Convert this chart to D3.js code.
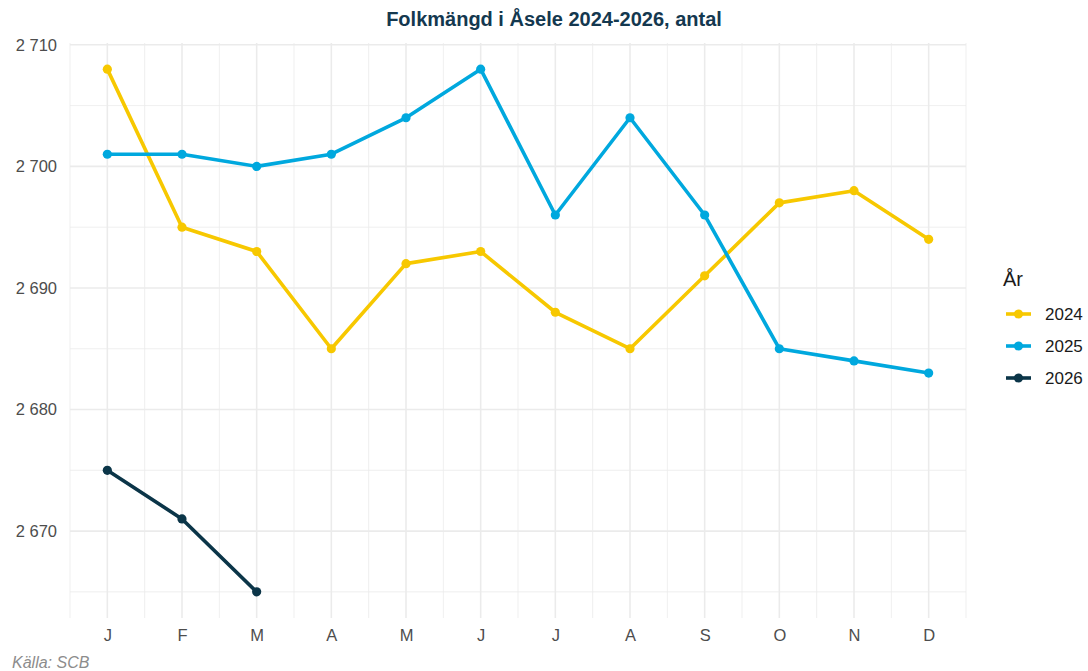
<!DOCTYPE html>
<html>
<head>
<meta charset="utf-8">
<script src="https://cdn.jsdelivr.net/npm/d3@7"></script>
<style>
  body { margin:0; background:#fff; }
  svg { font-family: "Liberation Sans", Arial, sans-serif; }
</style>
</head>
<body>
<div id="chart"></div>
<script>
const manader = ["J","F","M","A","M","J","J","A","S","O","N","D"];
const ar = ["2024","2025","2026"];
const v2024 = [2708,2695,2693,2685,2692,2693,2688,2685,2691,2697,2698,2694];
const v2025 = [2701,2701,2700,2701,2704,2708,2696,2704,2696,2685,2684,2683];
const v2026 = [2675,2671,2665];
const yTicks = [2670,2680,2690,2700,2710];
const farger = ["#f7c800","#00a8de","#0b3548"];

const width = 1088, height = 671;
const margin = {top:43, left:70, right:122, bottom:53};

const svg = d3.select("#chart").append("svg")
    .attr("width", width).attr("height", height);

const x = d3.scaleLinear()
    .domain([0.5, 12.5])
    .range([margin.left, width - margin.right]);

const y = d3.scaleLinear()
    .domain([2662.85, 2710.15])
    .range([height - margin.bottom, margin.top]);

// grid
const grid = svg.append("g");
const minorY = [2665,2675,2685,2695,2705];
grid.selectAll(".miny").data(minorY).join("line")
    .attr("x1", x(0.5)).attr("x2", x(12.5))
    .attr("y1", d => y(d)).attr("y2", d => y(d))
    .attr("stroke", "#ebebeb").attr("stroke-width", 0.8);
grid.selectAll(".minx").data(d3.range(13)).join("line")
    .attr("x1", d => x(d + 0.5)).attr("x2", d => x(d + 0.5))
    .attr("y1", y.range()[0]).attr("y2", y.range()[1])
    .attr("stroke", "#ebebeb").attr("stroke-width", 0.8);
grid.selectAll(".majy").data(yTicks).join("line")
    .attr("x1", x(0.5)).attr("x2", x(12.5))
    .attr("y1", d => y(d)).attr("y2", d => y(d))
    .attr("stroke", "#ebebeb").attr("stroke-width", 1.6);
grid.selectAll(".majx").data(d3.range(1, 13)).join("line")
    .attr("x1", d => x(d)).attr("x2", d => x(d))
    .attr("y1", y.range()[0]).attr("y2", y.range()[1])
    .attr("stroke", "#ebebeb").attr("stroke-width", 1.6);

// axes
const fmt = d => d3.format(",")(d).replace(",", " ");
const yAxis = svg.append("g")
    .attr("transform", `translate(${margin.left},0)`)
    .call(d3.axisLeft(y).tickValues(yTicks).tickFormat(fmt).tickSize(0).tickPadding(13));
yAxis.select(".domain").remove();
yAxis.selectAll("text").attr("font-size", "16.5px").attr("fill", "#4d4d4d")
    .attr("font-family", "'Liberation Sans', Arial, sans-serif");

const xAxis = svg.append("g")
    .attr("transform", `translate(0,${height - margin.bottom})`)
    .call(d3.axisBottom(x).tickValues(d3.range(1, 13)).tickFormat(i => manader[i - 1]).tickSize(0).tickPadding(11));
xAxis.select(".domain").remove();
xAxis.selectAll("text").attr("font-size", "16.5px").attr("fill", "#4d4d4d")
    .attr("font-family", "'Liberation Sans', Arial, sans-serif");

// series
const serier = [v2024, v2025, v2026];
const line = d3.line().x((d, i) => x(i + 1)).y(d => y(d));
serier.forEach((s, k) => {
  svg.append("path").datum(s)
      .attr("d", line).attr("fill", "none")
      .attr("stroke", farger[k]).attr("stroke-width", 3.6)
      .attr("stroke-linejoin", "round");
  svg.append("g").selectAll("circle").data(s).join("circle")
      .attr("cx", (d, i) => x(i + 1)).attr("cy", d => y(d))
      .attr("r", 4.6).attr("fill", farger[k]);
});

// title
svg.append("text")
    .attr("x", 554).attr("y", 26)
    .attr("text-anchor", "middle")
    .attr("font-size", "20px").attr("font-weight", "bold")
    .attr("fill", "#14384f")
    .text("Folkmängd i Åsele 2024-2026, antal");

// legend
const leg = svg.append("g").attr("transform", "translate(1003,0)");
leg.append("text").attr("x", 0).attr("y", 286)
    .attr("font-size", "20px").attr("fill", "#1a1a1a").text("År");
ar.forEach((a, k) => {
  const yy = 314 + k * 32;
  leg.append("line").attr("x1", 3).attr("x2", 28).attr("y1", yy).attr("y2", yy)
      .attr("stroke", farger[k]).attr("stroke-width", 3.6);
  leg.append("circle").attr("cx", 15.5).attr("cy", yy).attr("r", 4.6).attr("fill", farger[k]);
  leg.append("text").attr("x", 42).attr("y", yy + 6)
      .attr("font-size", "17px").attr("fill", "#1a1a1a").text(a);
});

// caption
svg.append("text")
    .attr("x", 12).attr("y", 668)
    .attr("font-size", "16px").attr("font-style", "italic")
    .attr("fill", "#8c8c8c").text("Källa: SCB");
</script>
</body>
</html>
